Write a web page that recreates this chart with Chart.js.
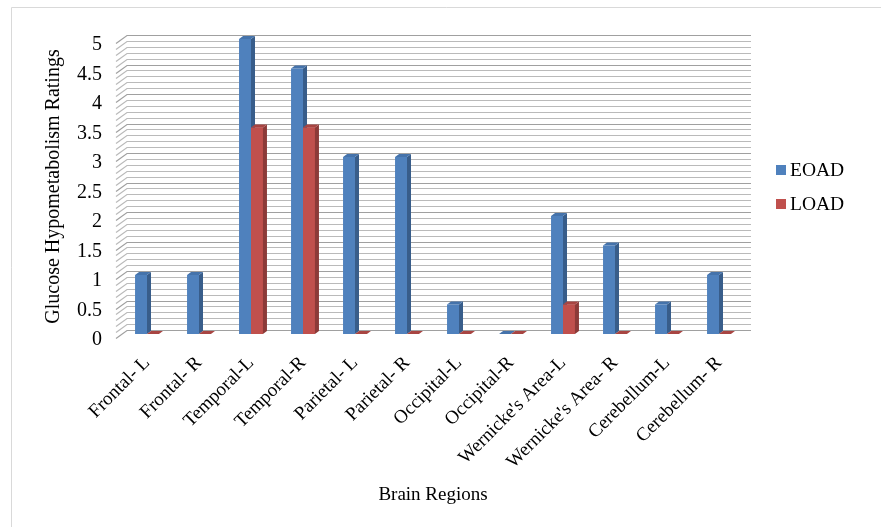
<!DOCTYPE html>
<html>
<head>
<meta charset="utf-8">
<script src="https://cdn.jsdelivr.net/npm/chart.js@4.4.1/dist/chart.umd.min.js"></script>
<style>
  html, body { margin: 0; padding: 0; background: #ffffff; }
  #wrap { width: 881px; height: 527px; position: relative; }
</style>
</head>
<body>
<div id="wrap"><canvas id="chart" width="881" height="527"></canvas></div>
<script>
// Brain regions and hypometabolism ratings per group
const regions = [
  "Frontal- L", "Frontal- R", "Temporal-L", "Temporal-R",
  "Parietal- L", "Parietal- R", "Occipital-L", "Occipital-R",
  "Wernicke's Area-L", "Wernicke's Area- R", "Cerebellum-L", "Cerebellum- R"
];
const eoad = [1, 1, 5, 4.5, 3, 3, 0.5, 0, 2, 1.5, 0.5, 1];
const load = [0, 0, 3.5, 3.5, 0, 0, 0, 0, 0.5, 0, 0, 0];
const seriesNames = ["EOAD", "LOAD"];
const yTicks = { min: 0, max: 5, step: 0.5, minorStep: 0.1 };

const SERIF = "'Liberation Serif', 'Times New Roman', serif";

// Face colours for the pseudo-3D columns: front, side, top
const faces = [
  { front: "#4f81bd", side: "#385d8a", top: "#4573ab" },
  { front: "#c0504d", side: "#8c3a38", top: "#a84542" }
];

// Wall depth (back wall offset from the column plane) and column depth
const WALL = { bx: 6, by: -4, fx: -5, fy: 4 };
const COL = { dx: 4, dy: -3 };

const framePlugin = {
  id: "frame",
  beforeDraw(chart) {
    const ctx = chart.ctx;
    ctx.save();
    ctx.fillStyle = "#ffffff";
    ctx.fillRect(0, 0, chart.width, chart.height);
    ctx.strokeStyle = "#d9d9d9";
    ctx.lineWidth = 1;
    ctx.beginPath();
    ctx.moveTo(11.5, chart.height);
    ctx.lineTo(11.5, 7.5);
    ctx.lineTo(chart.width, 7.5);
    ctx.stroke();
    ctx.restore();
  }
};

// Back wall and side wall gridlines, one every minor step of the value axis
const wallPlugin = {
  id: "walls",
  beforeDatasetsDraw(chart) {
    const { ctx, chartArea: a, scales } = chart;
    const y = scales.y;
    const n = Math.round((yTicks.max - yTicks.min) / yTicks.minorStep);
    ctx.save();
    ctx.lineWidth = 1.2;
    for (let i = 0; i <= n; i++) {
      const v = yTicks.min + i * yTicks.minorStep;
      const py = Math.round(y.getPixelForValue(v) + WALL.by) + 0.5;
      const major = i % 5 === 0;
      ctx.strokeStyle = major ? "#a0a0a0" : "#bababa";
      ctx.beginPath();
      ctx.moveTo(a.left + WALL.fx, py - WALL.by + WALL.fy);
      ctx.lineTo(a.left + WALL.bx, py);
      ctx.lineTo(a.right + WALL.bx, py);
      ctx.stroke();
    }
    ctx.restore();
  }
};

function drawFaces(ctx, meta, f) {
  meta.data.forEach((bar) => {
    const p = bar.getProps(["x", "y", "base", "width"], true);
    const l = p.x - p.width / 2, r = p.x + p.width / 2;
    const top = Math.min(p.y, p.base), base = p.base;
    ctx.fillStyle = f.side;
    ctx.beginPath();
    ctx.moveTo(r, top);
    ctx.lineTo(r + COL.dx, top + COL.dy);
    ctx.lineTo(r + COL.dx, base + COL.dy);
    ctx.lineTo(r, base);
    ctx.closePath();
    ctx.fill();
    ctx.fillStyle = f.top;
    ctx.beginPath();
    ctx.moveTo(l, top);
    ctx.lineTo(l + COL.dx, top + COL.dy);
    ctx.lineTo(r + COL.dx, top + COL.dy);
    ctx.lineTo(r, top);
    ctx.closePath();
    ctx.fill();
  });
}

// Side and top faces of every column; each later series is redrawn on top so
// its front face hides the side face of the column to its left
const columnPlugin = {
  id: "columns3d",
  afterDatasetsDraw(chart) {
    const ctx = chart.ctx;
    ctx.save();
    chart.data.datasets.forEach((ds, i) => {
      const meta = chart.getDatasetMeta(i);
      if (i > 0) meta.data.forEach((bar) => bar.draw(ctx));
      drawFaces(ctx, meta, faces[i]);
    });
    ctx.restore();
  }
};

// Legend on the right, built from the dataset labels and colours
const legendPlugin = {
  id: "sideLegend",
  afterDraw(chart) {
    const ctx = chart.ctx;
    ctx.save();
    ctx.font = "19.5px " + SERIF;
    ctx.textBaseline = "middle";
    chart.data.datasets.forEach((ds, i) => {
      const cy = 170 + i * 34;
      ctx.fillStyle = ds.backgroundColor;
      ctx.fillRect(776, cy - 5, 10, 10);
      ctx.fillStyle = "#000000";
      ctx.fillText(ds.label, 790, cy + 1);
    });
    ctx.restore();
  }
};

new Chart(document.getElementById("chart"), {
  type: "bar",
  data: {
    labels: regions,
    datasets: [
      { label: seriesNames[0], data: eoad, backgroundColor: faces[0].front },
      { label: seriesNames[1], data: load, backgroundColor: faces[1].front }
    ]
  },
  options: {
    responsive: false,
    animation: false,
    devicePixelRatio: 1,
    layout: { padding: { left: 0, right: 136, top: 39, bottom: 0 } },
    plugins: {
      legend: { display: false },
      tooltip: { enabled: false }
    },
    datasets: {
      bar: { categoryPercentage: 0.46, barPercentage: 1, borderWidth: 0 }
    },
    scales: {
      x: {
        grid: { display: false, drawTicks: false },
        border: { display: false },
        ticks: {
          color: "#000000",
          font: { family: SERIF, size: 19 },
          minRotation: 45,
          maxRotation: 45,
          autoSkip: false,
          padding: 18
        },
        title: {
          display: true,
          text: "Brain Regions",
          color: "#000000",
          font: { family: SERIF, size: 19 },
          padding: { top: 0, bottom: 21 }
        },
        afterFit(scale) { scale.height = 193; }
      },
      y: {
        min: yTicks.min,
        max: yTicks.max,
        grid: { display: false, drawTicks: false },
        border: { display: false },
        ticks: {
          stepSize: yTicks.step,
          color: "#000000",
          font: { family: SERIF, size: 20 },
          padding: 19,
          labelOffset: 6,
          callback: (v) => String(v)
        },
        title: {
          display: true,
          text: "Glucose Hypometabolism Ratings",
          color: "#000000",
          font: { family: SERIF, size: 20 },
          padding: { top: 42, bottom: 0 }
        },
        afterFit(scale) { scale.width = 121; }
      }
    }
  },
  plugins: [framePlugin, wallPlugin, columnPlugin, legendPlugin]
});
</script>
</body>
</html>
